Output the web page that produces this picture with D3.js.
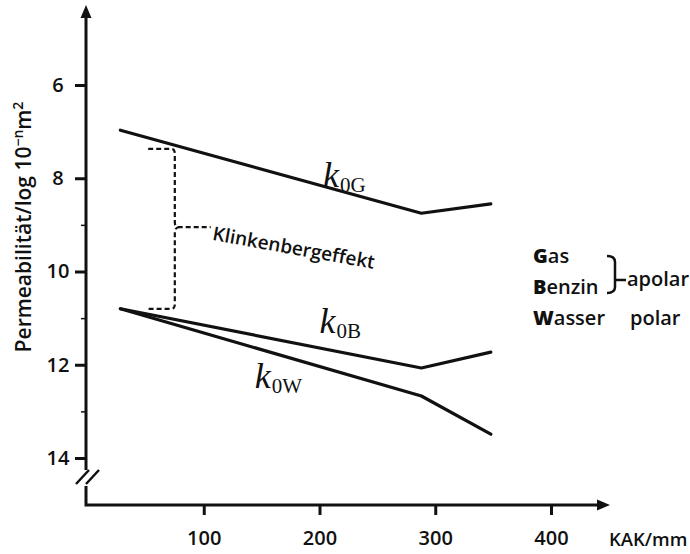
<!DOCTYPE html>
<html>
<head>
<meta charset="utf-8">
<script src="https://cdn.jsdelivr.net/npm/d3@7"></script>
<style>
    body { margin: 0; background: #fff; }
    svg { display: block; }
</style>
</head>
<body>
<div id="chart"></div>
<script>
const [WIDTH, HEIGHT] = [690, 554]

// values
const kak = [28, 288, 348]
const k0G = [6.97, 8.75, 8.55]
const k0B = [10.8, 12.07, 11.73]
const k0W = [10.8, 12.67, 13.49]
const yTicks = [6, 8, 10, 12, 14]
const yMinorTicks = [9, 11, 13]
const xTicks = [100, 200, 300, 400]
const seriesNames = ['G', 'B', 'W']
const labelKak = [203, 200, 144]
const labelPerm = [8.19, 11.32, 12.5]
const legendNames = ['Gas', 'Benzin', 'Wasser']

const SANS = '"Open Sans", Lato, sans-serif'
const SERIF = '"Liberation Serif", "DejaVu Serif", serif'
const ink = '#111'

const x = d3.scaleLinear([0, 400], [88, 551])
const y = d3.scaleLinear([6, 14], [85, 458])

const svg = d3.select('#chart').append('svg')
    .attr('width', WIDTH)
    .attr('height', HEIGHT)
    .attr('viewBox', [0, 0, WIDTH, HEIGHT])
    .style('font-family', SANS)

// axes: hand-drawn look, own lines with arrows and a break on the y axis
const x0 = x(0) - 2, yBase = 505
svg.append('path')
    .attr('d', `M${x0},16V470M${x0},486V${yBase}H600`)
    .attr('fill', 'none').attr('stroke', ink).attr('stroke-width', 3)
svg.append('path')
    .attr('d', `M${x0},5L${x0 - 5.5},18L${x0 + 5.5},18Z`).attr('fill', ink)
svg.append('path')
    .attr('d', `M610,${yBase}L597,${yBase - 5.5}L597,${yBase + 5.5}Z`).attr('fill', ink)
svg.append('path')
    .attr('d', `M${x0 - 10},484L${x0 + 3},470M${x0},484L${x0 + 13},470`)
    .attr('fill', 'none').attr('stroke', ink).attr('stroke-width', 2.5)

const yAxis = svg.append('g')
    .attr('transform', `translate(${x0},0)`)
    .call(d3.axisLeft(y).tickValues(yTicks).tickSize(11).tickPadding(17))
    .call(g => g.select('.domain').remove())
yAxis.selectAll('.tick line').attr('stroke', ink).attr('stroke-width', 3)
yAxis.selectAll('.tick text')
    .attr('text-anchor', 'middle')
    .style('font-family', SANS).style('font-size', '20px').style('font-weight', 600)
    .attr('fill', ink)

svg.append('g')
    .attr('transform', `translate(${x0},0)`)
    .call(d3.axisLeft(y).tickValues(yMinorTicks).tickSize(5).tickFormat(''))
    .call(g => g.select('.domain').remove())
    .selectAll('.tick line').attr('stroke', ink).attr('stroke-width', 1.5)

const xAxis = svg.append('g')
    .attr('transform', `translate(0,${yBase})`)
    .call(d3.axisBottom(x).tickValues(xTicks).tickSize(10).tickPadding(16))
    .call(g => g.select('.domain').remove())
xAxis.selectAll('.tick line').attr('stroke', ink).attr('stroke-width', 3)
xAxis.selectAll('.tick text')
    .style('font-family', SANS).style('font-size', '20px').style('font-weight', 600)
    .attr('fill', ink)

svg.append('text')
    .attr('x', 609).attr('y', 546)
    .attr('fill', ink)
    .style('font-size', '18.5px').style('font-weight', 600)
    .text('KAK/mm')

// y axis title
const yTitle = svg.append('text')
    .attr('transform', 'translate(31,227) rotate(-90)')
    .attr('text-anchor', 'middle')
    .attr('fill', ink)
    .style('font-size', '21px').style('font-weight', 600)
yTitle.append('tspan').text('Permeabilität/log 10')
yTitle.append('tspan').attr('dy', -8).style('font-size', '14px').text('−n')
yTitle.append('tspan').attr('dy', 8).text('m')
yTitle.append('tspan').attr('dy', -8).style('font-size', '14px').text('2')

// lines
const series = [k0G, k0B, k0W]
const line = d3.line().x(d => x(d[0])).y(d => y(d[1]))
svg.append('g')
    .attr('fill', 'none').attr('stroke', ink).attr('stroke-width', 3.2)
    .attr('stroke-linejoin', 'round').attr('stroke-linecap', 'round')
    .selectAll('path')
    .data(series)
    .join('path')
    .attr('d', s => line(s.map((v, i) => [kak[i], v])))

// k0 labels
seriesNames.forEach((name, i) => {
    const t = svg.append('text')
        .attr('x', x(labelKak[i])).attr('y', y(labelPerm[i]))
        .attr('fill', ink)
        .style('font-family', SERIF)
    t.append('tspan').style('font-size', '36px').style('font-style', 'italic').text('k')
    t.append('tspan').style('font-size', '21px').attr('dy', 5).attr('dx', 1).text('0' + name)
})

// Klinkenberg bracket (dashed)
const bx = 75, bTop = k0G[0] + 0.4, bBot = k0B[0], bMid = 9.05
const bracket = d3.path()
bracket.moveTo(x(52), y(bTop))
bracket.lineTo(x(bx - 3), y(bTop))
bracket.quadraticCurveTo(x(bx), y(bTop), x(bx), y(bTop) + 5)
bracket.lineTo(x(bx), y(bMid) - 5)
bracket.quadraticCurveTo(x(bx), y(bMid), x(bx) + 5, y(bMid))
bracket.lineTo(x(106), y(bMid))
bracket.moveTo(x(bx) + 5, y(bMid))
bracket.quadraticCurveTo(x(bx), y(bMid), x(bx), y(bMid) + 5)
bracket.lineTo(x(bx), y(bBot) - 5)
bracket.quadraticCurveTo(x(bx), y(bBot), x(bx - 3), y(bBot))
bracket.lineTo(x(52), y(bBot))
svg.append('path')
    .attr('d', bracket.toString())
    .attr('fill', 'none').attr('stroke', ink).attr('stroke-width', 2.2)
    .attr('stroke-dasharray', '5,3')

svg.append('text')
    .attr('transform', `translate(${x(107)},${y(9.32)}) rotate(10.2)`)
    .attr('fill', ink)
    .style('font-size', '19px').style('font-weight', 600)
    .text('Klinkenbergeffekt')

// legend on the right
const legend = svg.append('g').style('font-size', '20px')
legendNames.forEach((n, i) => {
    const t = legend.append('text').attr('x', 533).attr('y', 263 + i * 31).attr('fill', ink)
    t.append('tspan').style('font-weight', 800).text(n[0])
    t.append('tspan').style('font-weight', 600).text(n.slice(1))
})
legend.append('path')
    .attr('d', 'M607,256Q615,256 615,262V287Q615,293 607,293M615,280H626')
    .attr('fill', 'none').attr('stroke', ink).attr('stroke-width', 2.5)
legend.append('text').attr('x', 627).attr('y', 286).attr('fill', ink).style('font-weight', 600).text('apolar')
legend.append('text').attr('x', 630).attr('y', 325).attr('fill', ink).style('font-weight', 600).text('polar')
</script>
</body>
</html>
